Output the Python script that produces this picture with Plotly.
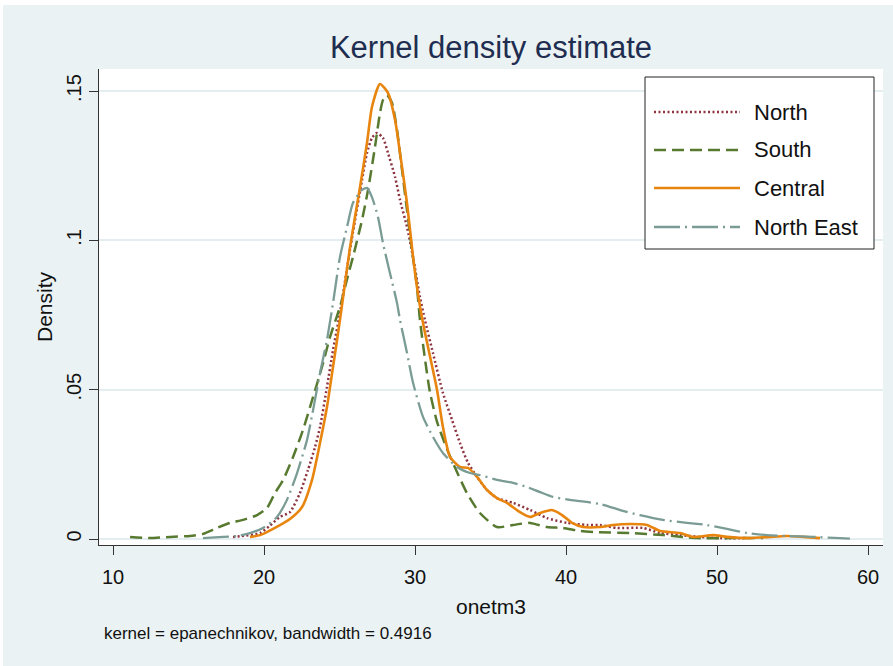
import plotly.graph_objects as go

# Kernel density estimates of onetm3 by region (Epanechnikov kernel)
north_x = [17.95, 18.41, 19.74, 20.40, 21.06, 21.72, 22.38, 22.91, 23.38, 23.71, 24.17, 24.57,
           25.03, 25.70, 26.49, 26.82, 27.15, 27.48, 27.88, 28.21, 28.68, 29.01, 29.47, 29.87,
           30.33, 30.66, 31.19, 31.85, 32.45, 32.98, 33.51, 34.11, 34.77, 35.43, 36.49, 37.62,
           38.74, 40.07, 41.39, 42.25, 43.38, 45.10, 46.23, 47.55, 48.87, 50.20, 52.00]
north_y = [0.0007, 0.0009, 0.0020, 0.0045, 0.0074, 0.0090, 0.0154, 0.0231, 0.0308, 0.0375, 0.0509, 0.0633,
           0.0757, 0.0970, 0.1202, 0.1293, 0.1343, 0.1360, 0.1343, 0.1293, 0.1212, 0.1135, 0.1045, 0.0944,
           0.0810, 0.0733, 0.0623, 0.0489, 0.0399, 0.0321, 0.0255, 0.0208, 0.0164, 0.0137, 0.0121, 0.0097,
           0.0070, 0.0054, 0.0047, 0.0047, 0.0037, 0.0037, 0.0020, 0.0013, 0.0007, 0.0003, 0.0003]

south_x = [11.13, 12.45, 13.77, 15.10, 15.96, 16.89, 17.75, 18.61, 19.54, 20.20, 20.73, 21.26,
           21.92, 22.58, 23.25, 23.84, 24.37, 25.03, 25.50, 25.89, 26.49, 26.89, 27.35, 27.68,
           27.88, 28.15, 28.48, 28.81, 29.14, 29.47, 29.80, 30.13, 30.33, 30.66, 30.99, 31.46,
           32.12, 32.78, 33.44, 34.30, 35.43, 36.49, 37.62, 38.74, 39.80, 40.93, 42.05, 44.24,
           46.42, 48.68, 50.86, 53.05]
south_y = [0.0007, 0.0003, 0.0007, 0.0010, 0.0017, 0.0037, 0.0054, 0.0064, 0.0080, 0.0104, 0.0154, 0.0197,
           0.0274, 0.0365, 0.0476, 0.0576, 0.0676, 0.0777, 0.0870, 0.0944, 0.1068, 0.1169, 0.1313, 0.1427,
           0.1470, 0.1487, 0.1460, 0.1370, 0.1236, 0.1102, 0.0968, 0.0844, 0.0733, 0.0603, 0.0492, 0.0392,
           0.0301, 0.0224, 0.0154, 0.0087, 0.0040, 0.0047, 0.0054, 0.0040, 0.0037, 0.0027, 0.0023, 0.0020,
           0.0013, 0.0003, 0.0003, 0.0003]

central_x = [19.07, 19.74, 20.60, 21.72, 22.52, 23.18, 23.71, 24.17, 24.57, 25.03, 25.70, 26.36,
             26.82, 27.15, 27.68, 28.21, 28.68, 29.01, 29.47, 29.87, 30.20, 30.53, 31.00, 31.46,
             31.85, 32.32, 32.98, 33.51, 34.11, 34.77, 35.43, 36.09, 36.95, 37.62, 38.28, 39.07,
             39.74, 40.40, 41.13, 42.25, 43.11, 44.24, 45.36, 46.23, 47.55, 48.41, 49.74, 50.66,
             52.19, 53.50, 54.64, 55.70, 56.82]
central_y = [0.0007, 0.0013, 0.0034, 0.0067, 0.0107, 0.0198, 0.0322, 0.0442, 0.0576, 0.0733, 0.0978, 0.1179,
             0.1326, 0.1447, 0.1524, 0.1494, 0.1403, 0.1292, 0.1125, 0.0945, 0.0820, 0.0723, 0.0610, 0.0499,
             0.0375, 0.0275, 0.0241, 0.0238, 0.0208, 0.0164, 0.0137, 0.0121, 0.0090, 0.0074, 0.0087, 0.0097,
             0.0080, 0.0054, 0.0040, 0.0040, 0.0047, 0.0050, 0.0047, 0.0027, 0.0020, 0.0007, 0.0013, 0.0007,
             0.0003, 0.0007, 0.0010, 0.0007, 0.0003]

neast_x = [15.96, 17.28, 18.21, 19.07, 19.93, 20.86, 21.52, 22.19, 22.85, 23.25, 23.71, 24.17,
           24.57, 25.03, 25.50, 25.89, 26.49, 26.82, 27.15, 27.55, 27.88, 28.34, 28.81, 29.01,
           29.47, 29.87, 30.53, 31.19, 31.85, 32.78, 33.64, 34.30, 35.43, 36.49, 37.42, 38.28,
           39.14, 40.26, 41.39, 42.25, 43.58, 44.90, 46.42, 48.01, 49.34, 50.66, 51.99, 53.31,
           54.64, 56.36, 58.15, 58.80]
neast_y = [0.0003, 0.0007, 0.0010, 0.0020, 0.0037, 0.0074, 0.0131, 0.0221, 0.0332, 0.0432, 0.0556, 0.0667,
           0.0790, 0.0944, 0.1045, 0.1125, 0.1169, 0.1176, 0.1145, 0.1078, 0.0991, 0.0891, 0.0790, 0.0733,
           0.0623, 0.0523, 0.0409, 0.0342, 0.0288, 0.0241, 0.0221, 0.0214, 0.0198, 0.0188, 0.0174, 0.0157,
           0.0141, 0.0131, 0.0124, 0.0117, 0.0097, 0.0080, 0.0064, 0.0054, 0.0047, 0.0034, 0.0020, 0.0013,
           0.0010, 0.0007, 0.0003, 0.0001]

series_names = ["North", "South", "Central", "North East"]
series_x = [north_x, south_x, central_x, neast_x]
series_y = [north_y, south_y, central_y, neast_y]

x_ticks = [10, 20, 30, 40, 50, 60]
y_ticks = [0, 0.05, 0.1, 0.15]
y_tick_text = ["0", ".05", ".1", ".15"]

colors = ["#8E3440", "#587A30", "#E8850F", "#7A9C95"]
dashes = ["2px,2.5px", "12px,6px", "solid", "26px,5px,2px,5px"]
widths = [2.5, 2.5, 2.6, 2.3]

FONT = "Liberation Sans, Arial, sans-serif"
W, H = 893, 666
ML, MR, MT, MB = 99, 10, 69, 121
PW, PH = W - ML - MR, H - MT - MB


def px_x(p):
    return (p - ML) / PW


def px_y(p):
    return (H - MB - p) / PH


fig = go.Figure()
for name, xs, ys, c, d, w in zip(series_names, series_x, series_y, colors, dashes, widths):
    fig.add_trace(go.Scatter(
        x=xs, y=ys, mode="lines", name=name, showlegend=False,
        line=dict(color=c, dash=d, width=w, shape="spline", smoothing=0.6),
    ))

shapes = []
annotations = []

# thin white frame along the top and left edges
shapes.append(dict(type="rect", xref="paper", yref="paper", x0=px_x(0), x1=px_x(W),
                   y0=px_y(5), y1=px_y(0), fillcolor="white", line=dict(width=0), layer="below"))
shapes.append(dict(type="rect", xref="paper", yref="paper", x0=px_x(0), x1=px_x(3),
                   y0=px_y(H), y1=px_y(0), fillcolor="white", line=dict(width=0), layer="below"))

# legend box
shapes.append(dict(type="rect", xref="paper", yref="paper", x0=px_x(645), x1=px_x(874),
                   y0=px_y(249), y1=px_y(77), fillcolor="white",
                   line=dict(color="#222222", width=1)))
row_y = [112, 150, 188, 227]
for name, c, d, w, ry in zip(series_names, colors, dashes, widths, row_y):
    shapes.append(dict(type="line", xref="paper", yref="paper", x0=px_x(654), x1=px_x(740),
                       y0=px_y(ry), y1=px_y(ry), line=dict(color=c, dash=d, width=w)))
    annotations.append(dict(xref="paper", yref="paper", x=px_x(752), y=px_y(ry),
                            xanchor="left", yanchor="middle", showarrow=False, text=name,
                            font=dict(family=FONT, size=22, color="#111111")))

# kernel note under the axis
annotations.append(dict(xref="paper", yref="paper", x=px_x(102), y=px_y(633),
                        xanchor="left", yanchor="middle", showarrow=False,
                        text="kernel = epanechnikov, bandwidth = 0.4916",
                        font=dict(family=FONT, size=17, color="#111111")))

fig.update_layout(
    width=W, height=H,
    margin=dict(l=ML, r=MR, t=MT, b=MB),
    paper_bgcolor="#EAF2F3",
    plot_bgcolor="white",
    font=dict(family=FONT, color="#111111"),
    title=dict(text="Kernel density estimate", x=0.5, xref="paper", xanchor="center",
               y=1 - 47 / H, yref="container", yanchor="middle",
               font=dict(family=FONT, size=31, color="#1E2D50")),
    shapes=shapes,
    annotations=annotations,
    xaxis=dict(
        range=[10 + (ML - 113) / 15.1, 10 + (W - MR - 113) / 15.1],
        tickvals=x_ticks, ticks="outside", ticklen=9, tickwidth=1, tickcolor="#333333",
        showline=True, linecolor="#333333", linewidth=1, showgrid=False, zeroline=False,
        ticklabelstandoff=5,
        tickfont=dict(family=FONT, size=20, color="#111111"),
        title=dict(text="onetm3", standoff=12, font=dict(family=FONT, size=21, color="#111111")),
    ),
    yaxis=dict(
        range=[(539 - (H - MB)) / 2986, (539 - MT) / 2986],
        tickvals=y_ticks, ticktext=y_tick_text, tickangle=-90,
        ticks="outside", ticklen=9, tickwidth=1, tickcolor="#333333",
        showline=True, linecolor="#333333", linewidth=1,
        showgrid=True, gridcolor="#E4EEF0", gridwidth=2, zeroline=False,
        ticklabelstandoff=0,
        tickfont=dict(family=FONT, size=20, color="#111111"),
        title=dict(text="Density", standoff=4, font=dict(family=FONT, size=21, color="#111111")),
    ),
)

fig.write_html("out.html")
